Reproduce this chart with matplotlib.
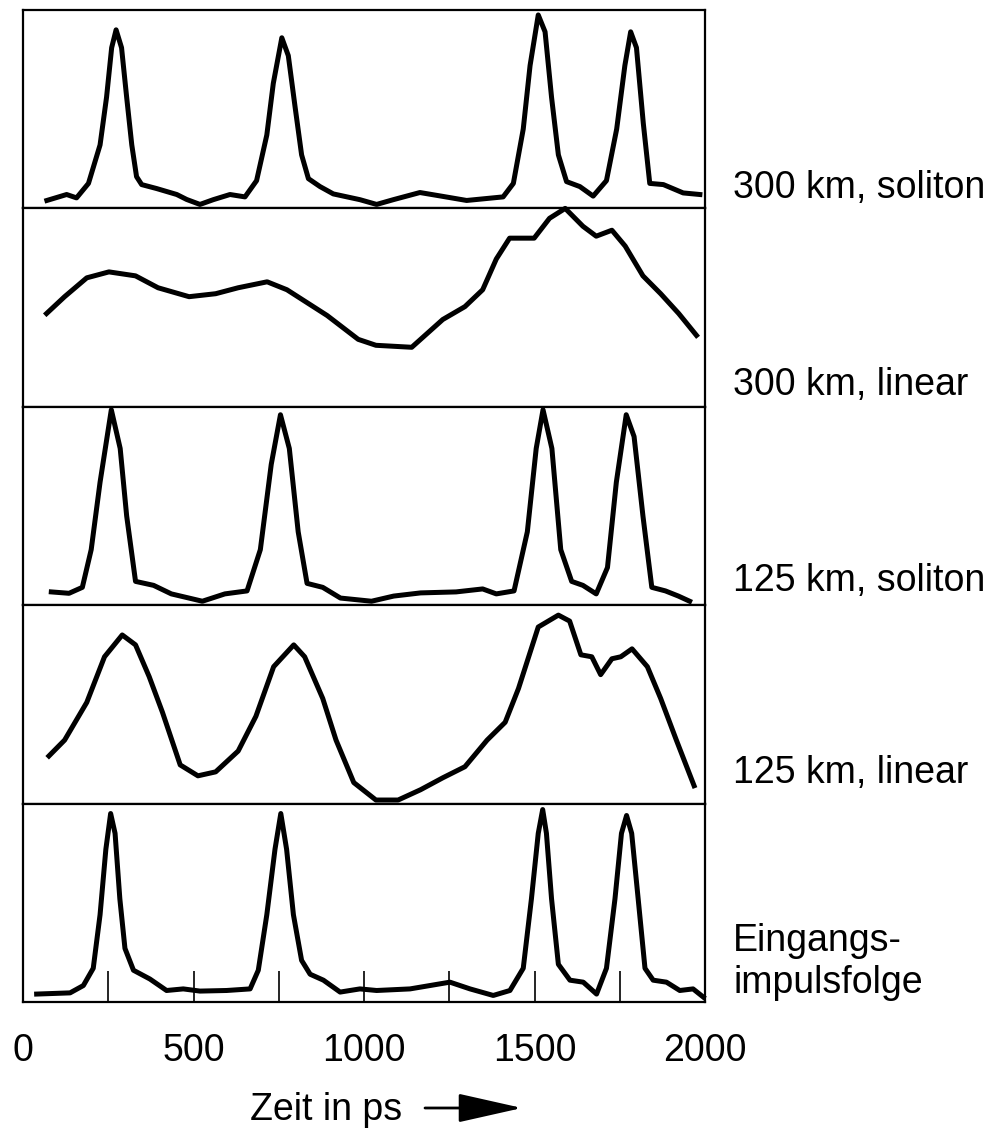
import numpy as np
import matplotlib
matplotlib.use("Agg")
import matplotlib.pyplot as plt

plt.rcParams['font.family'] = ['Liberation Sans', 'DejaVu Sans']

# time in ps, normalised amplitude (0 = panel floor, 1 = panel top)
t_sol300 = [70, 128, 157, 192, 226, 245, 260, 273, 289, 304, 319, 333, 348, 392, 451, 480, 519,
            558, 607, 651, 685, 715, 734, 759, 778, 798, 817, 837, 871, 910, 988, 1037, 1086,
            1164, 1233, 1301, 1408, 1438, 1467, 1487, 1511, 1531, 1550, 1570, 1594, 1633, 1672,
            1711, 1741, 1765, 1782, 1799, 1819, 1838, 1878, 1936, 1985]
y_sol300 = [0.04, 0.07, 0.053, 0.126, 0.32, 0.56, 0.81, 0.90, 0.81, 0.56, 0.32, 0.16, 0.12, 0.10,
            0.07, 0.045, 0.02, 0.044, 0.07, 0.058, 0.14, 0.37, 0.63, 0.86, 0.77, 0.51, 0.27, 0.15,
            0.11, 0.073, 0.044, 0.02, 0.044, 0.08, 0.06, 0.04, 0.058, 0.126, 0.40, 0.72, 0.975,
            0.89, 0.56, 0.27, 0.135, 0.11, 0.062, 0.14, 0.40, 0.72, 0.89, 0.81, 0.43, 0.126,
            0.12, 0.078, 0.07]

t_lin300 = [69, 122, 187, 252, 330, 396, 487, 565, 631, 716, 774, 892, 983, 1035, 1140, 1231,
            1296, 1348, 1388, 1427, 1499, 1544, 1590, 1642, 1681, 1727, 1766, 1818, 1870, 1923,
            1975]
y_lin300 = [0.47, 0.555, 0.65, 0.68, 0.66, 0.60, 0.555, 0.57, 0.60, 0.63, 0.59, 0.46, 0.34,
            0.31, 0.30, 0.44, 0.505, 0.59, 0.745, 0.85, 0.85, 0.95, 1.0, 0.91, 0.86, 0.89, 0.81,
            0.66, 0.57, 0.47, 0.36]

t_sol125 = [83, 135, 174, 200, 226, 259, 285, 304, 330, 383, 435, 526, 592, 657, 696, 728, 755,
            781, 807, 833, 879, 931, 1022, 1087, 1166, 1270, 1348, 1388, 1440, 1479, 1505, 1525,
            1551, 1577, 1609, 1642, 1681, 1714, 1740, 1769, 1792, 1818, 1844, 1884, 1922, 1955]
y_sol125 = [0.067, 0.06, 0.09, 0.28, 0.62, 0.985, 0.79, 0.45, 0.12, 0.10, 0.057, 0.02, 0.057,
            0.072, 0.28, 0.71, 0.96, 0.79, 0.37, 0.11, 0.09, 0.036, 0.02, 0.046, 0.062, 0.067,
            0.082, 0.057, 0.072, 0.37, 0.79, 0.985, 0.79, 0.28, 0.12, 0.10, 0.057, 0.19, 0.62,
            0.96, 0.85, 0.45, 0.09, 0.072, 0.046, 0.02]

t_lin125 = [76, 122, 187, 239, 291, 330, 370, 409, 461, 513, 565, 631, 683, 735, 794, 826, 879,
            918, 970, 1035, 1100, 1166, 1231, 1296, 1361, 1414, 1453, 1511, 1570, 1603, 1636,
            1668, 1694, 1727, 1753, 1786, 1831, 1870, 1916, 1968]
y_lin125 = [0.24, 0.32, 0.51, 0.74, 0.85, 0.80, 0.64, 0.46, 0.195, 0.14, 0.16, 0.265, 0.44, 0.69,
            0.80, 0.74, 0.53, 0.32, 0.106, 0.018, 0.018, 0.07, 0.13, 0.186, 0.32, 0.41, 0.58,
            0.89, 0.95, 0.92, 0.75, 0.74, 0.65, 0.73, 0.74, 0.78, 0.69, 0.53, 0.32, 0.09]

t_input = [40, 138, 177, 206, 226, 243, 257, 270, 284, 299, 324, 372, 421, 470, 519, 597, 666,
           690, 715, 739, 756, 773, 793, 817, 842, 881, 930, 988, 1037, 1135, 1252, 1311, 1379,
           1428, 1467, 1491, 1511, 1524, 1535, 1550, 1570, 1604, 1643, 1682, 1711, 1736, 1755,
           1770, 1785, 1804, 1824, 1848, 1887, 1926, 1965, 1995]
y_input = [0.04, 0.046, 0.083, 0.17, 0.44, 0.77, 0.95, 0.85, 0.52, 0.27, 0.16, 0.116, 0.058,
           0.066, 0.055, 0.058, 0.066, 0.16, 0.44, 0.77, 0.95, 0.77, 0.44, 0.21, 0.14, 0.11, 0.05,
           0.066, 0.058, 0.066, 0.10, 0.066, 0.033, 0.058, 0.17, 0.52, 0.85, 0.97, 0.85, 0.52,
           0.19, 0.11, 0.10, 0.04, 0.17, 0.52, 0.85, 0.94, 0.85, 0.52, 0.17, 0.11, 0.10, 0.058,
           0.066, 0.025]

series = [(t_sol300, y_sol300), (t_lin300, y_lin300), (t_sol125, y_sol125),
          (t_lin125, y_lin125), (t_input, y_input)]
labels = ["300 km, soliton", "300 km, linear", "125 km, soliton", "125 km, linear",
          "Eingangs-\nimpulsfolge"]
label_base = [198, 395, 591, 783, 993]   # baseline of the last text line, in px from top
tick_vals = [0, 500, 1000, 1500, 2000]

W, H = 999, 1137
fig = plt.figure(figsize=(W / 100, H / 100), dpi=100)

left, right = 23 / W, 705 / W
top_px, bot_px = 10, 1002
ph = (bot_px - top_px) / 5

for i, (t, y) in enumerate(series):
    y_top = top_px + i * ph
    ax = fig.add_axes([left, 1 - (y_top + ph) / H, right - left, ph / H])
    ax.plot(t, y, color='black', lw=3.6, solid_joinstyle='round', clip_on=False)
    ax.set_xlim(0, 2000)
    ax.set_ylim(0, 1)
    ax.set_yticks([])
    for s in ax.spines.values():
        s.set_linewidth(1.6)
    if i < 4:
        ax.set_xticks([])
    else:
        ax.set_xticks(np.arange(0, 2001, 250))
        ax.set_xticklabels([str(v) if v in tick_vals else "" for v in np.arange(0, 2001, 250)])
        ax.tick_params(axis='x', direction='in', length=22, width=1.2, pad=22, labelsize=27)

    fig.text(733 / W, 1 - label_base[i] / H, labels[i], fontsize=27, va='baseline',
             ha='left', linespacing=1.2)

fig.text(250 / W, 1 - 1110 / H, "Zeit in ps", fontsize=27, va='center', ha='left')
fig.patches.append(matplotlib.patches.FancyArrowPatch(
    (425 / W, 1 - 1108 / H), (522 / W, 1 - 1108 / H), transform=fig.transFigure,
    arrowstyle='-|>,head_length=2.0,head_width=0.45', mutation_scale=20,
    color='black', lw=2, shrinkA=0, shrinkB=0))

fig.savefig("out.png", dpi=100)
